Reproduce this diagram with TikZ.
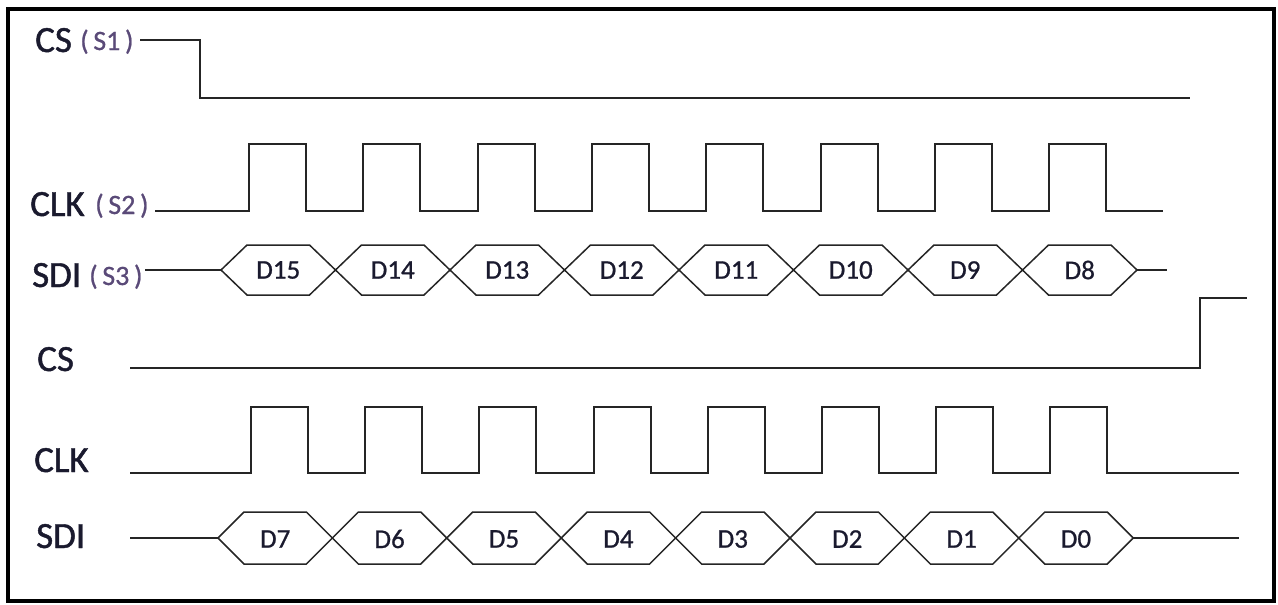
\documentclass[tikz,border=0pt]{standalone}
\usepackage{fontspec}
\setmainfont{Carlito}
\newfontfamily\lblfont{Carlito}[FakeBold=1.2]
\newfontfamily\datfont{Carlito}[FakeBold=0.8]
\definecolor{labc}{HTML}{1A1A2E}
\definecolor{subc}{HTML}{5A4A78}
\definecolor{linec}{HTML}{252525}
\begin{document}
\begin{tikzpicture}[x=1pt,y=-1pt,
  sig/.style={line width=2pt, draw=linec, line join=miter},
  hexs/.style={line width=1.5pt, draw=linec, line join=miter},
  lbl/.style={font=\lblfont\fontsize{37}{40}\selectfont, text=labc, anchor=base west, inner sep=0pt},
  sub/.style={font=\datfont\fontsize{28}{30}\selectfont, text=subc, anchor=base west, inner sep=0pt},
  dat/.style={font=\datfont\fontsize{27}{29}\selectfont, text=labc, inner sep=0pt}]
\useasboundingbox (0,0) rectangle (1278,605);
\draw[line width=4pt] (8,9) rectangle (1274,601);
% Row 1: CS (S1)
\node[lbl] (cs1) at (35,52) {CS};
\node[sub] (s1) at (80,50) {(\,S1\,)};
\draw[sig] (140,40) -- (200,40) -- (200,98) -- (1190,98);
% Row 2: CLK (S2)
\node[lbl] (clk1) at (30,216) {CLK};
\node[sub] (s2) at (95,214) {(\,S2\,)};
\draw[sig] (155,211) foreach \k in {0,...,7}{ -- ({249+114.3*\k},211) -- ++(0,-67) -- ++(57,0) -- ++(0,67)} -- (1163,211);
% Row 3: SDI (S3)
\node[lbl] (sdi1) at (32,287) {SDI};
\node[sub] (s3) at (89,285) {(\,S3\,)};
\draw[sig] (145,270) -- (221,270);
\foreach \k/\t in {0/D15,1/D14,2/D13,3/D12,4/D11,5/D10,6/D9,7/D8}{
  \pgfmathsetmacro\a{221+114.5*\k}
  \draw[hexs] (\a,270) -- ({\a+26},245) -- ({\a+114.5-26},245) -- ({\a+114.5},270) -- ({\a+114.5-26},295) -- ({\a+26},295) -- cycle;
  \node[dat] (h\t) at ({\a+57.25},270) {\t};
}
\draw[sig] (1137,270) -- (1167,270);
% Row 4: CS
\node[lbl] (cs2) at (37,371) {CS};
\draw[sig] (130,368) -- (1200,368) -- (1200,298) -- (1247,298);
% Row 5: CLK
\node[lbl] (clk2) at (34,472) {CLK};
\draw[sig] (130,473) foreach \k in {0,...,7}{ -- ({251+114.2*\k},473) -- ++(0,-66) -- ++(57,0) -- ++(0,66)} -- (1239,473);
% Row 6: SDI
\node[lbl] (sdi2) at (36,548) {SDI};
\draw[sig] (130,538) -- (218,538);
\foreach \k/\t in {0/D7,1/D6,2/D5,3/D4,4/D3,5/D2,6/D1,7/D0}{
  \pgfmathsetmacro\a{218+114.4*\k}
  \draw[hexs] (\a,538) -- ({\a+26},512) -- ({\a+114.4-26},512) -- ({\a+114.4},538) -- ({\a+114.4-26},564) -- ({\a+26},564) -- cycle;
  \node[dat] (h\t) at ({\a+57.2},539) {\t};
}
\draw[sig] (1133,538) -- (1239,538);
\end{tikzpicture}
\end{document}
